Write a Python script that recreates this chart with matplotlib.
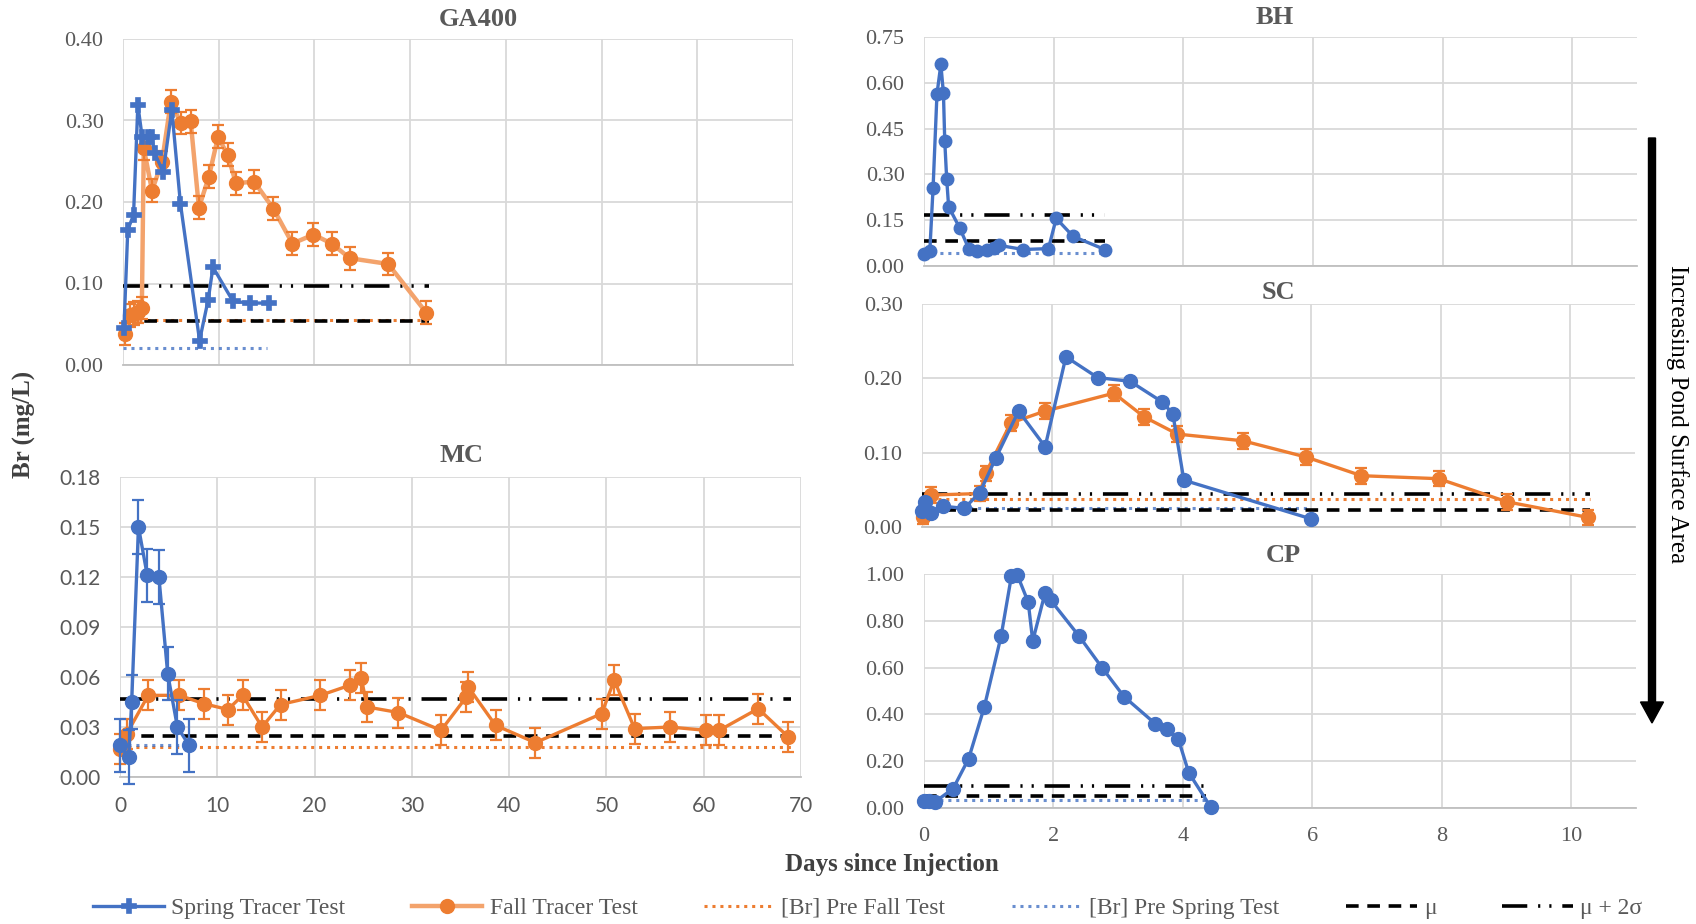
import matplotlib
matplotlib.use('Agg')
import matplotlib.pyplot as plt
from matplotlib.lines import Line2D
from matplotlib.patches import FancyArrow
from matplotlib.ticker import FormatStrFormatter, MultipleLocator

plt.rcParams['font.family'] = ['Liberation Serif', 'DejaVu Serif']

BLUE = '#4472C4'
ORANGE = '#ED7D31'
ORANGE_LIGHT = '#F3A36C'
GRID = '#D9D9D9'
TICK = '#595959'

# ---- GA400 (days, mg/L) ----
ga_spring_x = [0.1, 0.5, 1.1, 1.55, 2.0, 2.6, 3.0, 3.3, 4.2, 5.1, 6.0, 8.0, 8.9, 9.4, 11.5, 13.3, 15.3]
ga_spring_y = [0.045, 0.166, 0.184, 0.319, 0.280, 0.280, 0.280, 0.260, 0.237, 0.313, 0.198,
               0.030, 0.080, 0.120, 0.078, 0.076, 0.076]
ga_fall_x = [0.17, 0.7, 1.1, 1.55, 1.97, 2.17, 3.03, 4.07, 5.0, 6.03, 7.07, 7.93, 8.97, 9.93,
             10.93, 11.8, 13.7, 15.7, 17.7, 19.9, 21.8, 23.7, 27.7, 31.7]
ga_fall_y = [0.038, 0.061, 0.063, 0.065, 0.070, 0.266, 0.214, 0.249, 0.323, 0.297, 0.299, 0.193,
             0.231, 0.280, 0.258, 0.223, 0.225, 0.192, 0.149, 0.160, 0.149, 0.131, 0.124, 0.064]
ga_fall_err = 0.014
ga_mu, ga_mu2s, ga_pre_fall, ga_pre_spring = 0.0545, 0.0975, 0.055, 0.021
ga_ref_end, ga_spring_ref_end = 32, 15

# ---- BH ----
bh_spring_x = [0.0, 0.09, 0.14, 0.20, 0.26, 0.30, 0.32, 0.35, 0.38, 0.55, 0.69, 0.82, 0.97,
               1.08, 1.15, 1.53, 1.92, 2.04, 2.30, 2.79]
bh_spring_y = [0.040, 0.050, 0.256, 0.563, 0.660, 0.565, 0.410, 0.285, 0.194, 0.125, 0.057,
               0.049, 0.054, 0.060, 0.068, 0.054, 0.057, 0.156, 0.097, 0.054]
bh_mu, bh_mu2s, bh_pre_spring = 0.081, 0.166, 0.044
bh_ref_end = 2.8

# ---- SC ----
sc_spring_x = [0.0, 0.05, 0.14, 0.33, 0.65, 0.89, 1.14, 1.49, 1.90, 2.22, 2.71, 3.21, 3.71,
               3.87, 4.04, 6.0]
sc_spring_y = [0.022, 0.034, 0.019, 0.028, 0.025, 0.046, 0.093, 0.156, 0.108, 0.229, 0.201,
               0.196, 0.168, 0.152, 0.063, 0.011]
sc_fall_x = [0.02, 0.14, 0.89, 0.98, 1.37, 1.90, 2.96, 3.43, 3.94, 4.95, 5.93, 6.78, 7.97,
             9.02, 10.27]
sc_fall_y = [0.014, 0.043, 0.045, 0.072, 0.140, 0.156, 0.180, 0.148, 0.125, 0.116, 0.094,
             0.069, 0.065, 0.034, 0.013]
sc_fall_err = 0.0105
sc_mu, sc_mu2s, sc_pre_fall, sc_pre_spring = 0.0234, 0.044, 0.037, 0.0256
sc_ref_end, sc_spring_ref_end = 10.3, 6.0

# ---- MC ----
mc_spring_x = [0.0, 0.9, 1.2, 1.9, 2.8, 4.0, 4.9, 5.9, 7.1]
mc_spring_y = [0.019, 0.012, 0.045, 0.150, 0.121, 0.120, 0.062, 0.030, 0.019]
mc_spring_err = 0.016
mc_fall_x = [0.0, 0.7, 2.9, 6.1, 8.6, 11.1, 12.6, 14.6, 16.5, 20.6, 23.6, 24.8, 25.4, 28.6,
             33.0, 35.6, 35.8, 38.6, 42.7, 49.5, 50.8, 52.9, 56.5, 60.2, 61.6, 65.6, 68.7]
mc_fall_y = [0.017, 0.026, 0.049, 0.049, 0.044, 0.0405, 0.049, 0.030, 0.0435, 0.049, 0.055,
             0.0595, 0.042, 0.0387, 0.028, 0.048, 0.054, 0.031, 0.0206, 0.038, 0.058, 0.029,
             0.030, 0.028, 0.028, 0.041, 0.024]
mc_fall_err = 0.009
mc_mu, mc_mu2s, mc_pre_fall, mc_pre_spring = 0.0245, 0.0467, 0.018, 0.019
mc_ref_end, mc_spring_ref_end = 69, 8

# ---- CP ----
cp_spring_x = [0.0, 0.08, 0.17, 0.45, 0.69, 0.93, 1.19, 1.35, 1.44, 1.61, 1.68, 1.87, 1.96,
               2.40, 2.75, 3.09, 3.57, 3.75, 3.93, 4.09, 4.43]
cp_spring_y = [0.030, 0.032, 0.026, 0.083, 0.211, 0.430, 0.733, 0.990, 0.997, 0.880, 0.714,
               0.919, 0.887, 0.733, 0.600, 0.476, 0.361, 0.337, 0.294, 0.151, 0.004]
cp_mu, cp_mu2s, cp_pre_spring = 0.051, 0.094, 0.033
cp_ref_end = 4.35

MU_LS = (0, (3.5, 2.4))
MU2S_LS = (0, (7, 3, 0.6, 2.5, 0.6, 3))
DOT_LS = (0, (1, 1.6))

W, H = 1696, 924
fig = plt.figure(figsize=(W / 100, H / 100), dpi=100)


def add_axes_px(left, top, right, bottom):
    return fig.add_axes([left / W, 1 - bottom / H, (right - left) / W, (bottom - top) / H])


def style_axes(ax, xmax, xstep, ymax, ystep, xlabels=False, sans=False):
    ax.set_xlim(0, xmax)
    ax.set_ylim(0, ymax)
    ax.xaxis.set_major_locator(MultipleLocator(xstep))
    ax.yaxis.set_major_locator(MultipleLocator(ystep))
    ax.yaxis.set_major_formatter(FormatStrFormatter('%.2f'))
    ax.grid(True, color=GRID, lw=1.3)
    ax.set_axisbelow(True)
    for s in ax.spines.values():
        s.set_visible(False)
    ax.spines['bottom'].set_visible(True)
    ax.spines['bottom'].set_color('#BFBFBF')
    ax.spines['bottom'].set_linewidth(1.3)
    ax.tick_params(length=0, labelsize=16, colors=TICK, pad=14, labelbottom=xlabels)
    if sans:
        for lbl in ax.get_xticklabels() + ax.get_yticklabels():
            lbl.set_fontfamily('Lato')
            lbl.set_fontsize(15)


def ref_lines(ax, end, mu, mu2s, pre_fall=None, spring_end=None, pre_spring=None):
    if pre_fall is not None:
        ax.plot([0, end], [pre_fall, pre_fall], color=ORANGE, lw=2.2, ls=DOT_LS, zorder=2)
    if pre_spring is not None:
        ax.plot([0, spring_end], [pre_spring, pre_spring], color=BLUE, lw=2.2, ls=DOT_LS,
                alpha=0.8, zorder=2)
    ax.plot([0, end], [mu, mu], color='black', lw=2.6, ls=MU_LS, zorder=2)
    ax.plot([0, end], [mu2s, mu2s], color='black', lw=2.6, ls=MU2S_LS, zorder=2)


def title(x, y, text):
    fig.text(x / W, 1 - y / H, text, ha='center', va='center', fontsize=19,
             fontweight='bold', color=TICK)


# GA400
ax = add_axes_px(123, 39, 793, 365)
style_axes(ax, 70, 10, 0.40, 0.10)
ref_lines(ax, ga_ref_end, ga_mu, ga_mu2s, ga_pre_fall, ga_spring_ref_end, ga_pre_spring)
ax.plot(ga_fall_x, ga_fall_y, color=ORANGE_LIGHT, lw=3.2, zorder=3, clip_on=False)
ax.errorbar(ga_fall_x, ga_fall_y, yerr=ga_fall_err, fmt='o', color=ORANGE, ms=10,
            capsize=4.5, elinewidth=1.6, capthick=1.6, zorder=4, clip_on=False)
ax.plot(ga_spring_x, ga_spring_y, color=BLUE, lw=2.4, marker='P', ms=10.5, mew=1.2,
        zorder=5, clip_on=False)
title(478, 20, 'GA400')

# BH
ax = add_axes_px(924, 37, 1637, 266)
style_axes(ax, 11, 2, 0.75, 0.15)
ref_lines(ax, bh_ref_end, bh_mu, bh_mu2s, spring_end=bh_ref_end, pre_spring=bh_pre_spring)
ax.plot(bh_spring_x, bh_spring_y, color=BLUE, lw=2.4, marker='o', ms=9, zorder=5, clip_on=False)
title(1275, 18, 'BH')

# SC
ax = add_axes_px(922, 304, 1635, 527)
style_axes(ax, 11, 2, 0.30, 0.10)
ref_lines(ax, sc_ref_end, sc_mu, sc_mu2s, sc_pre_fall, sc_spring_ref_end, sc_pre_spring)
ax.errorbar(sc_fall_x, sc_fall_y, yerr=sc_fall_err, fmt='-o', color=ORANGE, lw=2.4, ms=10,
            capsize=4.5, elinewidth=1.6, capthick=1.6, zorder=4, clip_on=False)
ax.plot(sc_spring_x, sc_spring_y, color=BLUE, lw=2.4, marker='o', ms=10, zorder=5, clip_on=False)
title(1278, 292, 'SC')

# MC
ax = add_axes_px(120, 477, 801, 777)
style_axes(ax, 70, 10, 0.18, 0.03, xlabels=True, sans=True)
ref_lines(ax, mc_ref_end, mc_mu, mc_mu2s, mc_pre_fall, mc_spring_ref_end, mc_pre_spring)
ax.errorbar(mc_fall_x, mc_fall_y, yerr=mc_fall_err, fmt='-o', color=ORANGE, lw=2.4, ms=10,
            capsize=4.5, elinewidth=1.6, capthick=1.6, zorder=4, clip_on=False)
ax.errorbar(mc_spring_x, mc_spring_y, yerr=mc_spring_err, fmt='-o', color=BLUE, lw=2.4, ms=10,
            capsize=4.5, elinewidth=1.6, capthick=1.6, zorder=5, clip_on=False)
title(462, 455, 'MC')

# CP
ax = add_axes_px(924, 574, 1636, 808)
style_axes(ax, 11, 2, 1.00, 0.20, xlabels=True)
ref_lines(ax, cp_ref_end, cp_mu, cp_mu2s, spring_end=cp_ref_end, pre_spring=cp_pre_spring)
ax.plot(cp_spring_x, cp_spring_y, color=BLUE, lw=2.4, marker='o', ms=10, zorder=5, clip_on=False)
title(1283, 555, 'CP')

# shared labels
fig.text(24 / W, 1 - 424 / H, 'Br (mg/L)', rotation=90, ha='center', va='center',
         fontsize=18, fontweight='bold', color='#404040')
fig.text(892 / W, 1 - 865 / H, 'Days since Injection', ha='center', va='center',
         fontsize=18, fontweight='bold', color='#404040')
fig.text(1677 / W, 1 - 414 / H, 'Increasing Pond Surface Area', rotation=-90,
         ha='center', va='center', fontsize=18, color='black')

# arrow drawn on a pixel-unit overlay
over = fig.add_axes([0, 0, 1, 1])
over.set_xlim(0, W)
over.set_ylim(H, 0)
over.axis('off')
over.add_patch(FancyArrow(1652, 138, 0, 585, width=7, head_width=23, head_length=21,
                          length_includes_head=True, color='black'))

handles = [
    Line2D([], [], color=BLUE, lw=2.4, marker='P', ms=10, mew=1.2),
    Line2D([], [], color=ORANGE_LIGHT, lw=3.2, marker='o', ms=10, mfc=ORANGE, mec=ORANGE),
    Line2D([], [], color=ORANGE, lw=2.2, ls=DOT_LS),
    Line2D([], [], color=BLUE, lw=2.2, ls=DOT_LS, alpha=0.8),
    Line2D([], [], color='black', lw=2.6, ls=MU_LS),
    Line2D([], [], color='black', lw=2.6, ls=MU2S_LS),
]
labels = ['Spring Tracer Test', 'Fall Tracer Test', '[Br] Pre Fall Test',
          '[Br] Pre Spring Test', 'μ', 'μ + 2σ']
fig.legend(handles, labels, loc='center', bbox_to_anchor=(868 / W, 1 - 908 / H), ncol=6,
           frameon=False, fontsize=17, labelcolor=TICK, handlelength=3.0,
           columnspacing=2.8, handletextpad=0.3)

fig.savefig('out.png', dpi=100)
plt.close(fig)
